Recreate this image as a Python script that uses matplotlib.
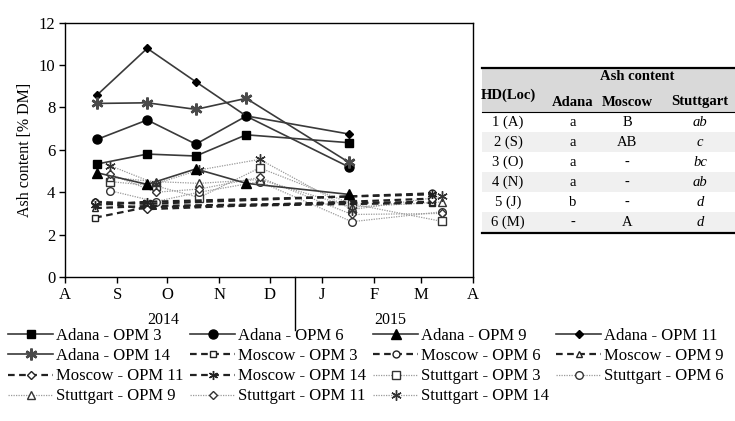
import matplotlib
matplotlib.use('Agg')
import matplotlib.pyplot as plt
import matplotlib.dates as mdates
from matplotlib.patches import Rectangle
from matplotlib.lines import Line2D
import numpy as np

plt.rcParams['font.family'] = ['Liberation Serif', 'DejaVu Serif']

W, H = 735, 421

# Sampling dates per location
adana_dates = ['2014-08-20', '2014-09-19', '2014-10-18', '2014-11-17', '2015-01-17']
moscow_dates = ['2014-08-19', '2014-09-19', '2015-03-08']
stuttgart_dates = ['2014-08-28', '2014-09-24', '2014-10-20', '2014-11-25',
                   '2015-01-19', '2015-03-14']

# Ash content [% DM]
adana_opm3 = [5.33, 5.80, 5.71, 6.71, 6.34]
adana_opm6 = [6.49, 7.41, 6.27, 7.59, 5.20]
adana_opm9 = [4.92, 4.37, 5.10, 4.42, 3.90]
adana_opm11 = [8.58, 10.79, 9.21, 7.60, 6.75]
adana_opm14 = [8.19, 8.22, 7.91, 8.43, 5.42]

moscow_opm3 = [2.80, 3.30, 3.50]
moscow_opm6 = [3.55, 3.45, 3.95]
moscow_opm9 = [3.25, 3.35, 3.55]
moscow_opm11 = [3.55, 3.20, 3.70]
moscow_opm14 = [3.40, 3.55, 3.90]

stuttgart_opm3 = [4.50, 4.30, 3.75, 5.15, 3.45, 2.62]
stuttgart_opm6 = [4.07, 3.56, 4.00, 4.50, 2.61, 3.08]
stuttgart_opm9 = [4.70, 4.50, 4.42, 4.60, 3.30, 3.54]
stuttgart_opm11 = [4.85, 4.00, 4.15, 4.70, 2.95, 3.00]
stuttgart_opm14 = [5.25, 4.40, 5.05, 5.55, 3.18, 3.80]

month_labels = ['A', 'S', 'O', 'N', 'D', 'J', 'F', 'M', 'A']
year_labels = ['2014', '2015']

# Letters from the significance table
table_hd = ['1 (A)', '2 (S)', '3 (O)', '4 (N)', '5 (J)', '6 (M)']
table_adana = ['a', 'a', 'a', 'a', 'b', '-']
table_moscow = ['B', 'AB', '-', '-', '-', 'A']
table_stuttgart = ['ab', 'c', 'bc', 'ab', 'd', 'd']

STAR = (6, 2, 0)

fig = plt.figure(figsize=(W / 100, H / 100), dpi=100)
ax = fig.add_axes([65 / W, 1 - 277 / H, (472.7 - 65) / W, (277 - 22.7) / H])


def d(lst):
    return np.array(lst, dtype='datetime64[D]')


handles = []
labels = []

adana = [('OPM 3', adana_opm3, 's', 6), ('OPM 6', adana_opm6, 'o', 6.5),
         ('OPM 9', adana_opm9, '^', 6.5), ('OPM 11', adana_opm11, 'D', 4.5),
         ('OPM 14', adana_opm14, STAR, 8.5)]
for name, vals, mk, ms in adana:
    if mk == STAR:
        h, = ax.plot(d(adana_dates), vals, color='#3a3a3a', lw=1.2, marker=mk,
                     ms=ms, mec='#4a4a4a', mew=1.8, zorder=5)
    else:
        h, = ax.plot(d(adana_dates), vals, color='#3a3a3a', lw=1.2, marker=mk,
                     ms=ms, mfc='black', mec='black', zorder=5)
    handles.append(h)
    labels.append('Adana - ' + name)

moscow = [('OPM 3', moscow_opm3, 's'), ('OPM 6', moscow_opm6, 'o'),
          ('OPM 9', moscow_opm9, '^'), ('OPM 11', moscow_opm11, 'D'),
          ('OPM 14', moscow_opm14, STAR)]
for name, vals, mk in moscow:
    ms = 5 if mk != 'D' else 3.8
    if mk == STAR:
        ms = 6.5
    h, = ax.plot(d(moscow_dates), vals, color='#222222', lw=1.6,
                 ls=(0, (3, 2)), marker=mk, ms=ms, mfc='white', mec='#222222',
                 mew=1.0, zorder=4)
    handles.append(h)
    labels.append('Moscow - ' + name)

stuttgart = [('OPM 3', stuttgart_opm3, 's'), ('OPM 6', stuttgart_opm6, 'o'),
             ('OPM 9', stuttgart_opm9, '^'), ('OPM 11', stuttgart_opm11, 'D'),
             ('OPM 14', stuttgart_opm14, STAR)]
for name, vals, mk in stuttgart:
    ms = 5.5 if mk != 'D' else 4
    if mk == STAR:
        ms = 7.5
    h, = ax.plot(d(stuttgart_dates), vals, color='#9a9a9a', lw=0.9,
                 ls=(0, (1, 1)), marker=mk, ms=ms, mfc='white', mec='#333333',
                 mew=1.0, zorder=3)
    handles.append(h)
    labels.append('Stuttgart - ' + name)

ax.set_ylim(0, 12)
ax.set_yticks(np.arange(0, 13, 2))
ax.set_xlim(np.datetime64('2014-08-01'), np.datetime64('2015-04-01'))
ax.xaxis.set_major_locator(mdates.MonthLocator())
ax.set_xticklabels(month_labels)
ax.tick_params(axis='both', labelsize=12, direction='out', length=4,
               width=1, colors='black', pad=3)
for s in ax.spines.values():
    s.set_linewidth(1.0)
    s.set_color('black')
ax.set_ylabel('Ash content [% DM]', fontsize=11.5, labelpad=4)

# year separator and year labels below the month axis
sep_x = mdates.date2num(np.datetime64('2014-12-16'))
ax.plot([sep_x, sep_x], [0, -0.21], transform=ax.get_xaxis_transform(),
        color='black', lw=1.0, clip_on=False)
ax.text((163 - 65) / 407.7, -0.169, year_labels[0], transform=ax.transAxes,
        ha='center', va='center', fontsize=11.5)
ax.text((390 - 65) / 407.7, -0.169, year_labels[1], transform=ax.transAxes,
        ha='center', va='center', fontsize=11.5)

# legend laid out row by row in four columns
order = [0, 4, 8, 12, 1, 5, 9, 13, 2, 6, 10, 14, 3, 7, 11]
fig.legend([handles[i] for i in order], [labels[i] for i in order],
           loc='upper left', bbox_to_anchor=(8 / W, 1 - 328 / H), ncol=4,
           frameon=False, fontsize=12, handlelength=2.7, handletextpad=0.15,
           columnspacing=0.45, labelspacing=0.25, borderpad=0, borderaxespad=0)


# significance table on the right
def fx(x):
    return x / W


def fy(y):
    return 1 - y / H


tx0, tx1 = 482, 735
fig.patches.append(Rectangle((fx(tx0), fy(112)), fx(tx1) - fx(tx0), fy(68) - fy(112),
                             transform=fig.transFigure, facecolor='#d9d9d9',
                             edgecolor='none'))
row_y = [122, 142, 162, 182, 202, 222]
for i, ry in enumerate(row_y):
    if i % 2 == 1:
        fig.patches.append(Rectangle((fx(tx0), fy(ry + 10)), fx(tx1) - fx(tx0),
                                     fy(ry - 10) - fy(ry + 10),
                                     transform=fig.transFigure,
                                     facecolor='#f0f0f0', edgecolor='none'))
for yy, lw in [(68, 1.6), (112, 0.8), (233, 1.6)]:
    fig.add_artist(Line2D([fx(tx0), fx(tx1)], [fy(yy), fy(yy)],
                          transform=fig.transFigure, color='black', lw=lw))

col_x = [508, 573, 627, 700]
fig.text(fx(637), fy(77), 'Ash content', ha='center', va='center',
         fontsize=10.5, fontweight='bold')
fig.text(fx(col_x[0]), fy(95), 'HD(Loc)', ha='center', va='center',
         fontsize=10.5, fontweight='bold')
for cx, name in zip(col_x[1:], ['Adana', 'Moscow', 'Stuttgart']):
    fig.text(fx(cx), fy(102), name, ha='center', va='center',
             fontsize=10.5, fontweight='bold')
for i, ry in enumerate(row_y):
    fig.text(fx(col_x[0]), fy(ry), table_hd[i], ha='center', va='center', fontsize=10.5)
    fig.text(fx(col_x[1]), fy(ry), table_adana[i], ha='center', va='center', fontsize=10.5)
    fig.text(fx(col_x[2]), fy(ry), table_moscow[i], ha='center', va='center', fontsize=10.5)
    fig.text(fx(col_x[3]), fy(ry), table_stuttgart[i], ha='center', va='center',
             fontsize=10.5, style='italic')

fig.savefig('out.png', dpi=100)
